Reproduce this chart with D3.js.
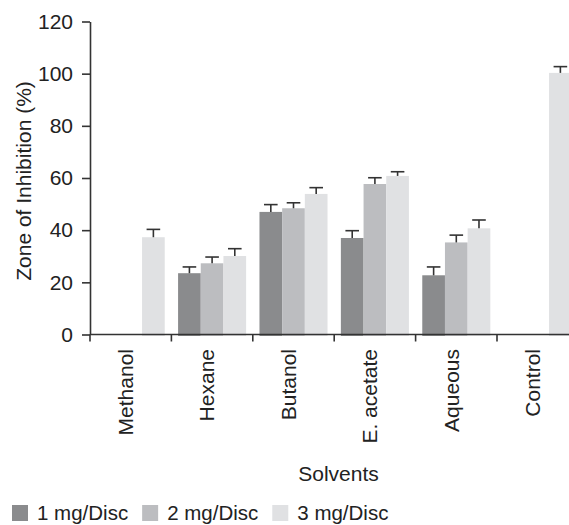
<!DOCTYPE html>
<html>
<head>
<meta charset="utf-8">
<script src="https://cdn.jsdelivr.net/npm/d3@7"></script>
<style>
  html, body { margin: 0; padding: 0; background: #fff; }
  svg { display: block; font-family: "Liberation Sans", Arial, sans-serif; }
</style>
</head>
<body>
<svg id="chart" width="569" height="525"></svg>
<script>
// Solvent extracts tested, one bar group per solvent
const categories = ["Methanol", "Hexane", "Butanol", "E. acetate", "Aqueous", "Control"];
const doses = ["1 mg/Disc", "2 mg/Disc", "3 mg/Disc"];

// Mean zone of inhibition (%) per dose; null = not tested
const dose1 = [null, 23.5, 47.0, 37.0, 22.7, null];
const dose2 = [null, 27.3, 48.4, 57.7, 35.3, null];
const dose3 = [37.3, 30.1, 53.9, 60.8, 40.7, 100.3];

// Standard error (upper bar only)
const err1 = [null, 2.4, 2.8, 2.8, 3.2, null];
const err2 = [null, 2.4, 2.1, 2.4, 2.8, null];
const err3 = [3.0, 2.8, 2.4, 1.6, 3.2, 2.4];

const yTicks = [0, 20, 40, 60, 80, 100, 120];

const seriesValues = [dose1, dose2, dose3];
const seriesErrors = [err1, err2, err3];
const colors = ["#8a8b8d", "#bcbdc0", "#e0e1e3"];

const svg = d3.select("#chart");
const fontSize = 21;
const ink = "#222";
const axisInk = "#333";

const x0 = d3.scaleBand().domain(categories).range([90, 578.4]).padding(0);
const bw = x0.bandwidth();
const x1 = d3.scaleBand().domain(doses).range([bw * 0.082, bw * 0.918]).padding(0);
const y = d3.scaleLinear().domain([0, 120]).range([334.5, 21.5]);

// Bars
const rows = [];
categories.forEach((c, i) => {
  doses.forEach((d, j) => {
    const v = seriesValues[j][i];
    if (v != null) rows.push({ c, d, j, v, e: seriesErrors[j][i] });
  });
});

const g = svg.append("g");
g.selectAll("rect.bar")
  .data(rows)
  .enter().append("rect")
  .attr("class", "bar")
  .attr("x", r => x0(r.c) + x1(r.d))
  .attr("width", x1.bandwidth())
  .attr("y", r => y(r.v))
  .attr("height", r => y(0) - y(r.v) + 1.5)
  .attr("fill", r => colors[r.j]);

// Error bars (upper whisker with cap)
const eb = g.selectAll("g.err")
  .data(rows.filter(r => r.e != null))
  .enter().append("g")
  .attr("class", "err")
  .attr("stroke", axisInk)
  .attr("stroke-width", 1.6);
eb.append("line")
  .attr("x1", r => x0(r.c) + x1(r.d) + x1.bandwidth() / 2)
  .attr("x2", r => x0(r.c) + x1(r.d) + x1.bandwidth() / 2)
  .attr("y1", r => y(r.v))
  .attr("y2", r => y(r.v + r.e));
eb.append("line")
  .attr("x1", r => x0(r.c) + x1(r.d) + x1.bandwidth() / 2 - 6.8)
  .attr("x2", r => x0(r.c) + x1(r.d) + x1.bandwidth() / 2 + 6.8)
  .attr("y1", r => y(r.v + r.e))
  .attr("y2", r => y(r.v + r.e));

// Y axis
const yAxis = svg.append("g")
  .attr("transform", "translate(90,0)")
  .call(d3.axisLeft(y).tickValues(yTicks).tickSize(8).tickPadding(9).tickSizeOuter(0));
yAxis.select(".domain").attr("stroke", axisInk).attr("stroke-width", 1.6);
yAxis.selectAll(".tick line").attr("stroke", axisInk).attr("stroke-width", 1.6);
yAxis.selectAll(".tick text")
  .attr("fill", ink)
  .style("font-size", fontSize + "px")
  .style("font-family", "'Liberation Sans', Arial, sans-serif");

// X axis: ticks at group boundaries
const bounds = categories.map(c => x0(c));
const xAxisG = svg.append("g");
xAxisG.append("line")
  .attr("x1", 90).attr("x2", 578.4)
  .attr("y1", y(0)).attr("y2", y(0))
  .attr("stroke", axisInk).attr("stroke-width", 1.6);
xAxisG.selectAll("line.xt")
  .data(bounds)
  .enter().append("line")
  .attr("class", "xt")
  .attr("x1", d => d).attr("x2", d => d)
  .attr("y1", y(0)).attr("y2", y(0) + 7)
  .attr("stroke", axisInk).attr("stroke-width", 1.6);

xAxisG.selectAll("text.xl")
  .data(categories)
  .enter().append("text")
  .attr("class", "xl")
  .attr("transform", c => `translate(${x0(c) + bw / 2 - 5},349) rotate(-90)`)
  .attr("text-anchor", "end")
  .attr("dy", "0.35em")
  .attr("fill", ink)
  .style("font-size", fontSize + "px")
  .text(c => c);

// Axis titles
svg.append("text")
  .attr("x", 338.5).attr("y", 480.5)
  .attr("text-anchor", "middle")
  .attr("fill", ink)
  .style("font-size", fontSize + "px")
  .text("Solvents");

svg.append("text")
  .attr("transform", "translate(31,181) rotate(-90)")
  .attr("text-anchor", "middle")
  .attr("fill", ink)
  .style("font-size", fontSize + "px")
  .text("Zone of Inhibition (%)");

// Legend
const legend = svg.append("g");
let lx = 12;
doses.forEach((d, j) => {
  legend.append("rect")
    .attr("x", lx).attr("y", 505)
    .attr("width", 16).attr("height", 16)
    .attr("fill", colors[j]);
  const t = legend.append("text")
    .attr("x", lx + 25).attr("y", 520)
    .attr("fill", ink)
    .style("font-size", "20.5px")
    .text(d);
  lx += 25 + t.node().getComputedTextLength() + 14;
});
</script>
</body>
</html>
